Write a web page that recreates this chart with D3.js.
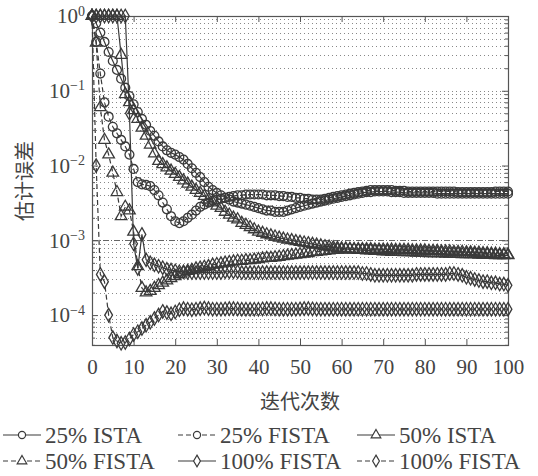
<!DOCTYPE html>
<html lang="zh">
<head>
<meta charset="UTF-8">
<title>估计误差</title>
<style>
  body { margin: 0; background: #fff; }
  svg text { fill: #444; }
</style>
</head>
<body>
<script src="https://d3js.org/d3.v7.min.js"></script>
<script>
// 迭代 0..100，每条曲线 101 个点
var iters = d3.range(0, 101);

var ista25 = [
  1, 0.8, 0.6, 0.45, 0.33, 0.25, 0.19, 0.145, 0.11, 0.085,
  0.066, 0.052, 0.042, 0.035, 0.029, 0.025, 0.021, 0.018, 0.016, 0.0148,
  0.014, 0.013, 0.012, 0.0105, 0.0092, 0.008, 0.007, 0.006, 0.0052, 0.0047,
  0.0043, 0.004, 0.0037, 0.0035, 0.0033, 0.0032, 0.0031, 0.003, 0.0029, 0.0028,
  0.0027, 0.0026, 0.0025, 0.0025, 0.0024, 0.0024, 0.0024, 0.0025, 0.0026, 0.0027,
  0.0028, 0.0029, 0.003, 0.0031, 0.0032, 0.0033, 0.0034, 0.0035, 0.0036, 0.0037,
  0.0038, 0.0039, 0.004, 0.0041, 0.0042, 0.0043, 0.0044, 0.0044, 0.0045, 0.0045,
  0.0045, 0.0045, 0.0044, 0.0044, 0.0044, 0.0043, 0.0043, 0.0043, 0.0043, 0.0043,
  0.0043, 0.0043, 0.0043, 0.0042, 0.0042, 0.0042, 0.0042, 0.0042, 0.0042, 0.0042,
  0.0042, 0.0042, 0.0042, 0.0042, 0.0042, 0.0042, 0.0042, 0.0042, 0.0042, 0.0042, 0.0042
];
var fista25 = [
  1, 0.45, 0.17, 0.07, 0.045, 0.033, 0.027, 0.022, 0.018, 0.014,
  0.009, 0.006, 0.0056, 0.0055, 0.0053, 0.0047, 0.004, 0.0032, 0.0026, 0.0021,
  0.0018, 0.0017, 0.0018, 0.002, 0.0022, 0.0025, 0.0028, 0.003, 0.0032, 0.0034,
  0.0035, 0.0036, 0.0037, 0.0038, 0.0039, 0.004, 0.004, 0.0041, 0.0041, 0.0041,
  0.0041, 0.0041, 0.004, 0.004, 0.004, 0.0039, 0.0039, 0.0038, 0.0038, 0.0037,
  0.0037, 0.0036, 0.0036, 0.0035, 0.0035, 0.0035, 0.0036, 0.0037, 0.0038, 0.0039,
  0.004, 0.0041, 0.0042, 0.0043, 0.0044, 0.0045, 0.0046, 0.0047, 0.0047, 0.0047,
  0.0047, 0.0047, 0.0047, 0.0046, 0.0046, 0.0046, 0.0045, 0.0045, 0.0045, 0.0045,
  0.0045, 0.0045, 0.0045, 0.0045, 0.0045, 0.0045, 0.0045, 0.0045, 0.0044, 0.0044,
  0.0044, 0.0044, 0.0044, 0.0044, 0.0044, 0.0044, 0.0044, 0.0045, 0.0045, 0.0045, 0.0045
];
var ista50 = [
  1, 1, 1, 1, 1, 1, 1, 0.3, 0.09, 0.07,
  0.055, 0.042, 0.032, 0.025, 0.019, 0.0145, 0.0115, 0.0104, 0.0094, 0.0085,
  0.0077, 0.007, 0.0063, 0.0057, 0.0052, 0.0047, 0.0043, 0.0039, 0.0035, 0.0032,
  0.0029, 0.0027, 0.0024, 0.0022, 0.002, 0.0019, 0.0017, 0.0016, 0.0015, 0.0014,
  0.0013, 0.00125, 0.0012, 0.00116, 0.00112, 0.00108, 0.00105, 0.00102, 0.001, 0.00097,
  0.00095, 0.00093, 0.00091, 0.00089, 0.00087, 0.00085, 0.00083, 0.00082, 0.0008, 0.00079,
  0.00078, 0.00077, 0.00076, 0.00075, 0.00074, 0.00074, 0.00073, 0.00073, 0.00072, 0.00072,
  0.00071, 0.00071, 0.0007, 0.0007, 0.0007, 0.00069, 0.00069, 0.00069, 0.00068, 0.00068,
  0.00068, 0.00067, 0.00067, 0.00067, 0.00067, 0.00066, 0.00066, 0.00066, 0.00066, 0.00065,
  0.00065, 0.00065, 0.00065, 0.00064, 0.00064, 0.00064, 0.00064, 0.00063, 0.00063, 0.00063, 0.00063
];
var fista50 = [
  1, 0.44, 0.06, 0.022, 0.014, 0.008, 0.0044, 0.0021, 0.0028, 0.0025,
  0.0013, 0.00045, 0.00023, 0.0002, 0.00021, 0.00023, 0.00025, 0.00027, 0.00029, 0.00031,
  0.00033, 0.00035, 0.00037, 0.00039, 0.0004, 0.00042, 0.00043, 0.00044, 0.00045, 0.00047,
  0.00048, 0.00049, 0.0005, 0.00051, 0.00052, 0.00053, 0.00053, 0.00054, 0.00054, 0.00055,
  0.00056, 0.00057, 0.00058, 0.00058, 0.00059, 0.0006, 0.00061, 0.00062, 0.00063, 0.00064,
  0.00065, 0.00066, 0.00067, 0.00069, 0.0007, 0.00071, 0.00072, 0.00073, 0.00074, 0.00075,
  0.00075, 0.00076, 0.00076, 0.00076, 0.00076, 0.00076, 0.00076, 0.00076, 0.00075, 0.00075,
  0.00075, 0.00075, 0.00075, 0.00074, 0.00074, 0.00074, 0.00074, 0.00073, 0.00073, 0.00073,
  0.00073, 0.00072, 0.00072, 0.00072, 0.00071, 0.00071, 0.00071, 0.0007, 0.0007, 0.0007,
  0.00069, 0.00069, 0.00068, 0.00068, 0.00067, 0.00067, 0.00066, 0.00066, 0.00065, 0.00065, 0.00064
];
var ista100 = [
  1, 1, 1, 1, 1, 1, 1, 1, 1, 0.05,
  0.0009, 0.00042, 0.0012, 0.00055, 0.0005, 0.00047, 0.00045, 0.00043, 0.00041, 0.0004,
  0.00039, 0.00038, 0.00038, 0.00037, 0.00037, 0.00037, 0.00037, 0.00037, 0.00037, 0.00037,
  0.00037, 0.00037, 0.00038, 0.00038, 0.00038, 0.00038, 0.00037, 0.00037, 0.00037, 0.00037,
  0.00037, 0.00037, 0.00037, 0.00037, 0.00037, 0.00037, 0.00037, 0.00037, 0.00037, 0.00037,
  0.00037, 0.00037, 0.00037, 0.00037, 0.00037, 0.00037, 0.00037, 0.00037, 0.00037, 0.00037,
  0.00037, 0.00037, 0.00037, 0.00037, 0.00037, 0.00036, 0.00036, 0.00035, 0.00034, 0.00034,
  0.00034, 0.00034, 0.00034, 0.00034, 0.00034, 0.00034, 0.00034, 0.00034, 0.00035, 0.00035,
  0.00035, 0.00035, 0.00035, 0.00035, 0.00035, 0.00035, 0.00036, 0.00036, 0.00035, 0.00034,
  0.00032, 0.00031, 0.0003, 0.00029, 0.00028, 0.00028, 0.00027, 0.00027, 0.00026, 0.00026, 0.00025
];
var fista100 = [
  1, 0.01, 0.00035, 0.00028, 0.0001, 0.00005, 0.000045, 0.000042, 0.000043, 0.000048,
  0.000055, 0.00006, 0.000066, 0.000073, 0.00008, 0.00009, 0.0001, 0.000112, 0.000108, 0.000104,
  0.00011, 0.000118, 0.000122, 0.00012, 0.000118, 0.00012, 0.000122, 0.000124, 0.000122, 0.00012,
  0.00012, 0.00012, 0.000121, 0.000122, 0.000122, 0.000121, 0.00012, 0.00012, 0.00012, 0.00012,
  0.00012, 0.000121, 0.000122, 0.000122, 0.000121, 0.00012, 0.00012, 0.00012, 0.00012, 0.00012,
  0.000121, 0.000122, 0.000122, 0.000121, 0.00012, 0.00012, 0.00012, 0.00012, 0.00012, 0.00012,
  0.00012, 0.00012, 0.00012, 0.00012, 0.00012, 0.00012, 0.00012, 0.00012, 0.00012, 0.00012,
  0.00012, 0.00012, 0.00012, 0.00012, 0.00012, 0.00012, 0.00012, 0.00012, 0.00012, 0.00012,
  0.00012, 0.00012, 0.00012, 0.00012, 0.00012, 0.00012, 0.00012, 0.00012, 0.00012, 0.00012,
  0.00012, 0.00012, 0.00012, 0.00012, 0.00012, 0.00012, 0.00012, 0.00012, 0.00012, 0.00012, 0.00012
];

var legendNames = ["25% ISTA", "25% FISTA", "50% ISTA", "50% FISTA", "100% FISTA", "100% FISTA"];
var xTicks = [0, 10, 20, 30, 40, 50, 60, 70, 80, 90, 100];
var yMajor = [1, 1e-1, 1e-2, 1e-3, 1e-4];
var yExp = ["0", "\u22121", "\u22122", "\u22123", "\u22124"];

var ink = "#3a3a3a";
var pLeft = 92, pRight = 508, pTop = 16, pBottom = 345;

var svg = d3.select("body").append("svg").attr("width", 538).attr("height", 476);

var x = d3.scaleLinear().domain([0, 100]).range([pLeft, pRight]);
var y = d3.scaleLog().domain([Math.pow(10, -4.4), 1]).range([pBottom, pTop]);

// 次刻度 2..9
var yMinor = [];
[1e-5, 1e-4, 1e-3, 1e-2, 1e-1].forEach(function (d) {
    for (var k = 2; k <= 9; k++) {
        var v = d * k;
        if (v > y.domain()[0] && v < 1) yMinor.push(v);
    }
});

// 网格
svg.append("g").selectAll("line")
    .data(yMinor.concat(yMajor.slice(1)))
    .enter().append("line")
    .attr("x1", pLeft).attr("x2", pRight)
    .attr("y1", function (d) { return Math.round(y(d)) + 0.5; })
    .attr("y2", function (d) { return Math.round(y(d)) + 0.5; })
    .attr("stroke", function (d) { return d === 1e-3 ? "#666" : "#888"; })
    .attr("stroke-width", 1)
    .attr("stroke-dasharray", function (d) { return d === 1e-3 ? "6,2,1,2" : "1,3"; });

// 坐标轴
function styleAxis(g) {
    g.select(".domain").remove();
    g.selectAll(".tick line").attr("stroke", "#555");
    g.selectAll("text").attr("fill", "#444")
        .style("font-family", "'Liberation Serif', serif").style("font-size", "21px");
}
svg.append("g").attr("transform", "translate(0," + pBottom + ")")
    .call(d3.axisBottom(x).tickValues(xTicks).tickSizeInner(-6).tickSizeOuter(0).tickPadding(14))
    .call(styleAxis);
svg.append("g").attr("transform", "translate(0," + pTop + ")")
    .call(d3.axisTop(x).tickValues(xTicks).tickSizeInner(-6).tickSizeOuter(0).tickFormat(""))
    .call(styleAxis);

var yl = svg.append("g").attr("transform", "translate(" + pLeft + ",0)")
    .call(d3.axisLeft(y).tickValues(yMajor).tickSizeInner(-6).tickSizeOuter(0).tickPadding(7))
    .call(styleAxis);
yl.selectAll(".tick text").each(function (d, i) {
    var t = d3.select(this).text("10");
    t.append("tspan").attr("dy", "-0.55em").style("font-size", "14px").text(yExp[i]);
});
svg.append("g").attr("transform", "translate(" + pLeft + ",0)")
    .call(d3.axisLeft(y).tickValues(yMinor).tickSizeInner(-3).tickSizeOuter(0).tickFormat(""))
    .call(styleAxis);
svg.append("g").attr("transform", "translate(" + pRight + ",0)")
    .call(d3.axisRight(y).tickValues(yMajor).tickSizeInner(-6).tickSizeOuter(0).tickFormat(""))
    .call(styleAxis);
svg.append("g").attr("transform", "translate(" + pRight + ",0)")
    .call(d3.axisRight(y).tickValues(yMinor).tickSizeInner(-3).tickSizeOuter(0).tickFormat(""))
    .call(styleAxis);

svg.append("rect").attr("x", pLeft + 0.5).attr("y", pTop + 0.5)
    .attr("width", pRight - pLeft).attr("height", pBottom - pTop)
    .attr("fill", "none").attr("stroke", "#555").attr("stroke-width", 1.2);

// 轴标题
svg.append("text").attr("x", (pLeft + pRight) / 2).attr("y", 409)
    .attr("text-anchor", "middle")
    .style("font-family", "'Noto Sans CJK SC', sans-serif").style("font-size", "20px")
    .text("迭代次数");
svg.append("text").attr("transform", "translate(32,181) rotate(-90)")
    .attr("text-anchor", "middle")
    .style("font-family", "'Noto Sans CJK SC', sans-serif").style("font-size", "20px")
    .text("估计误差");

// 曲线
var series = [
    { values: ista25, symbol: d3.symbolCircle, size: 62, dash: null },
    { values: fista25, symbol: d3.symbolCircle, size: 62, dash: "5,3" },
    { values: ista50, symbol: d3.symbolTriangle, size: 58, dash: null },
    { values: fista50, symbol: d3.symbolTriangle, size: 58, dash: "5,3" },
    { values: ista100, symbol: d3.symbolDiamond, size: 52, dash: null },
    { values: fista100, symbol: d3.symbolDiamond, size: 52, dash: "5,3" }
];

var line = d3.line()
    .x(function (d, i) { return x(iters[i]); })
    .y(function (d) { return y(d); });

series.forEach(function (s) {
    svg.append("path").datum(s.values)
        .attr("d", line)
        .attr("fill", "none").attr("stroke", ink).attr("stroke-width", 1.2)
        .attr("stroke-dasharray", s.dash);
});
series.forEach(function (s) {
    var sym = d3.symbol().type(s.symbol).size(s.size);
    svg.append("g").selectAll("path")
        .data(s.values).enter().append("path")
        .attr("d", sym)
        .attr("transform", function (d, i) { return "translate(" + x(iters[i]) + "," + y(d) + ")"; })
        .attr("fill", "none").attr("stroke", ink).attr("stroke-width", 1.3);
});

// 图例
var legendPos = [[3, 435], [178, 435], [357, 435], [3, 461], [178, 461], [357, 461]];
series.forEach(function (s, i) {
    var g = svg.append("g").attr("transform", "translate(" + legendPos[i][0] + "," + legendPos[i][1] + ")");
    g.append("line").attr("x1", 0).attr("x2", 38).attr("y1", 0).attr("y2", 0)
        .attr("stroke", ink).attr("stroke-width", 1.1).attr("stroke-dasharray", s.dash);
    g.append("path").attr("d", d3.symbol().type(s.symbol).size(40)())
        .attr("transform", "translate(19,0)")
        .attr("fill", "#fff").attr("stroke", ink).attr("stroke-width", 1.2);
    g.append("text").attr("x", 42).attr("dy", "0.35em")
        .style("font-family", "'Liberation Serif', serif").style("font-size", "23px")
        .text(legendNames[i]);
});
</script>
</body>
</html>
